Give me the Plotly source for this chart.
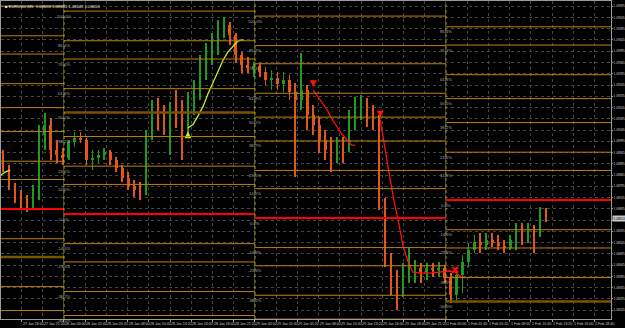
import plotly.graph_objects as go

# ---------------- data (EURUSD, M5 bars aggregated into 45-min candles) ----------------
candle_open = [1.08912, 1.08876, 1.08801, 1.08743, 1.08734, 1.08712, 1.08778, 1.09023, 1.09067, 1.08956,
               1.08934, 1.08921, 1.08992, 1.09009, 1.09000, 1.08912, 1.08921, 1.08934, 1.08947, 1.08912,
               1.08876, 1.08832, 1.08796, 1.08778, 1.08770, 1.09023, 1.09134, 1.09111, 1.09089, 1.09134,
               1.09111, 1.09067, 1.09178, 1.09222, 1.09333, 1.09400, 1.09444, 1.09498, 1.09511, 1.09467,
               1.09378, 1.09333, 1.09320, 1.09329, 1.09302, 1.09267, 1.09276, 1.09249, 1.09267, 1.09214,
               1.09178, 1.09222, 1.09111, 1.09067, 1.09000, 1.08956, 1.08934, 1.08978, 1.08956, 1.09089,
               1.09134, 1.09156, 1.09111, 1.09098, 1.08734, 1.08490, 1.08357, 1.08334, 1.08401, 1.08423,
               1.08432, 1.08414, 1.08432, 1.08423, 1.08432, 1.08388, 1.08312, 1.08401, 1.08459, 1.08512,
               1.08548, 1.08534, 1.08556, 1.08543, 1.08530, 1.08521, 1.08556, 1.08592, 1.08579, 1.08610,
               1.08579, 1.08667]
candle_high = [1.08956, 1.08889, 1.08809, 1.08778, 1.08756, 1.08801, 1.09067, 1.09120, 1.09098, 1.09000,
               1.08965, 1.09000, 1.09036, 1.09036, 1.09009, 1.08956, 1.08956, 1.08965, 1.08956, 1.08925,
               1.08889, 1.08858, 1.08823, 1.08814, 1.09045, 1.09178, 1.09187, 1.09156, 1.09169, 1.09222,
               1.09178, 1.09214, 1.09267, 1.09378, 1.09431, 1.09476, 1.09533, 1.09547, 1.09524, 1.09476,
               1.09391, 1.09369, 1.09347, 1.09342, 1.09325, 1.09311, 1.09302, 1.09302, 1.09289, 1.09254,
               1.09387, 1.09245, 1.09156, 1.09103, 1.09045, 1.09014, 1.09014, 1.09014, 1.09134, 1.09191,
               1.09200, 1.09187, 1.09156, 1.09111, 1.08743, 1.08499, 1.08423, 1.08454, 1.08525, 1.08468,
               1.08454, 1.08454, 1.08454, 1.08459, 1.08445, 1.08410, 1.08423, 1.08490, 1.08543, 1.08579,
               1.08587, 1.08587, 1.08587, 1.08579, 1.08556, 1.08579, 1.08632, 1.08632, 1.08632, 1.08623,
               1.08703, 1.08698]
candle_low = [1.08858, 1.08778, 1.08721, 1.08690, 1.08681, 1.08698, 1.08734, 1.08956, 1.08912, 1.08898,
              1.08889, 1.08912, 1.08969, 1.08987, 1.08889, 1.08867, 1.08898, 1.08912, 1.08889, 1.08858,
              1.08814, 1.08778, 1.08747, 1.08734, 1.08756, 1.09000, 1.09045, 1.09023, 1.08934, 1.09054,
              1.08912, 1.09032, 1.09111, 1.09178, 1.09267, 1.09333, 1.09378, 1.09453, 1.09422, 1.09342,
              1.09298, 1.09298, 1.09280, 1.09280, 1.09245, 1.09222, 1.09222, 1.09214, 1.09178, 1.08836,
              1.09134, 1.09045, 1.09023, 1.08943, 1.08912, 1.08858, 1.08898, 1.08898, 1.08947, 1.09045,
              1.09089, 1.09058, 1.09045, 1.08690, 1.08437, 1.08312, 1.08246, 1.08303, 1.08366, 1.08366,
              1.08366, 1.08379, 1.08392, 1.08392, 1.08366, 1.08277, 1.08277, 1.08321, 1.08437, 1.08499,
              1.08499, 1.08512, 1.08525, 1.08512, 1.08499, 1.08512, 1.08512, 1.08534, 1.08543, 1.08499,
              1.08570, 1.08636]
candle_close = [1.08876, 1.08801, 1.08743, 1.08734, 1.08712, 1.08778, 1.09023, 1.09067, 1.08956, 1.08934,
                1.08921, 1.08992, 1.09009, 1.09000, 1.08912, 1.08921, 1.08934, 1.08947, 1.08912, 1.08876,
                1.08832, 1.08796, 1.08778, 1.08770, 1.09023, 1.09134, 1.09111, 1.09089, 1.09134, 1.09111,
                1.09067, 1.09178, 1.09222, 1.09333, 1.09400, 1.09444, 1.09498, 1.09511, 1.09467, 1.09378,
                1.09333, 1.09320, 1.09329, 1.09302, 1.09267, 1.09276, 1.09249, 1.09267, 1.09214, 1.09178,
                1.09222, 1.09111, 1.09067, 1.09000, 1.08956, 1.08934, 1.08978, 1.08956, 1.09089, 1.09134,
                1.09156, 1.09111, 1.09098, 1.08734, 1.08490, 1.08357, 1.08334, 1.08401, 1.08423, 1.08432,
                1.08414, 1.08432, 1.08423, 1.08432, 1.08388, 1.08312, 1.08401, 1.08459, 1.08512, 1.08548,
                1.08534, 1.08556, 1.08543, 1.08530, 1.08521, 1.08556, 1.08592, 1.08579, 1.08610, 1.08579,
                1.08667, 1.08654]
BARS_PER_CANDLE = 9          # M5 bars per drawn candle
candle_x = [4 + BARS_PER_CANDLE * i for i in range(len(candle_close))]   # bar index (5-min bars from 27 Jan 16:00)
current_bid = 1.08653

# indicator lines (bar index, price)
green1_x = [1, 7, 15]
green1_y = [1.08845, 1.08858, 1.08867]
green2_x = [283, 291, 298, 306, 313, 321, 328, 336, 343, 351, 357, 361, 367]
green2_y = [1.09054, 1.09071, 1.09107, 1.09151, 1.09205, 1.09258, 1.09311, 1.09356, 1.09391, 1.09418,
            1.09436, 1.09444, 1.09444]
red1_x = [472, 482, 493, 500, 508, 515, 523, 530, 535]
red1_y = [1.09222, 1.09178, 1.09134, 1.09094, 1.09058, 1.09027, 1.09000, 1.08978, 1.08978]
red2_x = [573, 580, 588, 595, 600, 607, 615, 622, 633, 648, 663, 678, 686, 693, 701]
red2_y = [1.09089, 1.08956, 1.08823, 1.08712, 1.08645, 1.08534, 1.08459, 1.08414, 1.08410, 1.08410,
          1.08414, 1.08419, 1.08414, 1.08397, 1.08388]
buy_arrow_x, buy_arrow_y = [283], [1.09040]
sell_arrow_x, sell_arrow_y = [472, 573], [1.09235, 1.09100]
cross_x, cross_y = [686], [1.08425]

# fibonacci objects (one per day)
fib_levels = [100, 85.4, 76.4, 61.8, 50, 38.2, 23.6, 14.6, 0, -14.6, -23.6, -38.2, -50]
fib_start = [-60, 96, 384, 672]
fib_end = [96, 384, 672, 925]
fib_zero = [1.08694, 1.08672, 1.08654, 1.08734]
fib_full = [1.09595, 1.09573, 1.09551, 1.09635]
fib_thick = [(0, -23.6), (1, 50), (3, -50)]

day_separators = [96, 384, 672]

time_tick_idx = [32 * k for k in range(29)]
time_tick_text = ["27 Jan 2016", "27 Jan 18:40", "27 Jan 21:20", "28 Jan 00:00", "28 Jan 02:40",
                  "28 Jan 05:20", "28 Jan 08:00", "28 Jan 10:40", "28 Jan 13:20", "28 Jan 16:00",
                  "28 Jan 18:40", "28 Jan 21:20", "29 Jan 00:00", "29 Jan 02:40", "29 Jan 05:20",
                  "29 Jan 08:00", "29 Jan 10:40", "29 Jan 13:20", "29 Jan 16:00", "29 Jan 18:40",
                  "29 Jan 21:20", "1 Feb 00:00", "1 Feb 02:40", "1 Feb 05:20", "1 Feb 08:00",
                  "1 Feb 10:40", "1 Feb 13:20", "1 Feb 16:00", "1 Feb 18:40"]
price_tick0 = 1.09595
price_step = 0.0005
title_text = "■ EURUSD,M5  1.08653 1.08655 1.08649 1.08653"

X_RANGE = [1.06, 920.9]
Y_RANGE = [1.08206, 1.09618]

# ---------------- figure ----------------
FONT = "Liberation Sans"
UP, DOWN = "#1f9a1f", "#e2561a"
fig = go.Figure()

# candles drawn as wick bars + body bars
colors = [UP if c >= o else DOWN for o, c in zip(candle_open, candle_close)]
wick_len = [h - l for h, l in zip(candle_high, candle_low)]
body_base = [min(o, c) for o, c in zip(candle_open, candle_close)]
body_len = [max(abs(c - o), 0.00003) for o, c in zip(candle_open, candle_close)]

fig.add_trace(go.Bar(x=candle_x, y=wick_len, base=candle_low, width=1.3,
                     marker=dict(color=colors, line=dict(width=0)),
                     showlegend=False, hoverinfo="skip"))
fig.add_trace(go.Bar(x=candle_x, y=body_len, base=body_base, width=3.8,
                     marker=dict(color=colors, line=dict(width=0)),
                     showlegend=False, hoverinfo="skip"))

for xs, ys in [(green1_x, green1_y), (green2_x, green2_y)]:
    fig.add_trace(go.Scatter(x=xs, y=ys, mode="lines", line=dict(color="#bff02a", width=1.3),
                             showlegend=False, hoverinfo="skip"))
for xs, ys in [(red1_x, red1_y), (red2_x, red2_y)]:
    fig.add_trace(go.Scatter(x=xs, y=ys, mode="lines", line=dict(color="#ff1010", width=1.3),
                             showlegend=False, hoverinfo="skip"))
fig.add_trace(go.Scatter(x=buy_arrow_x, y=buy_arrow_y, mode="markers",
                         marker=dict(symbol="arrow-up", size=7, color="#bff02a"),
                         showlegend=False, hoverinfo="skip"))
fig.add_trace(go.Scatter(x=sell_arrow_x, y=sell_arrow_y, mode="markers",
                         marker=dict(symbol="arrow-down", size=7, color="#ff1010"),
                         showlegend=False, hoverinfo="skip"))
fig.add_trace(go.Scatter(x=cross_x, y=cross_y, mode="markers",
                         marker=dict(symbol="x-thin", size=6, color="#ff1010",
                                     line=dict(color="#ff1010", width=2)),
                         showlegend=False, hoverinfo="skip"))

shapes = []
annotations = []
for s in range(len(fib_start)):
    for lv in fib_levels:
        price = fib_zero[s] + lv / 100.0 * (fib_full[s] - fib_zero[s])
        if lv == 0:
            color, width = "#ff0000", 2
        elif (s, lv) in fib_thick:
            color, width = "#7a5200", 2.5
        else:
            color, width = "#c08008", 1
        shapes.append(dict(type="line", xref="x", yref="y", x0=fib_start[s], x1=fib_end[s],
                           y0=price, y1=price, line=dict(color=color, width=width), layer="above"))
        if X_RANGE[0] <= fib_start[s] and Y_RANGE[0] < price < Y_RANGE[1]:
            annotations.append(dict(x=fib_start[s], y=price, xref="x", yref="y",
                                    text=f"{lv:.1f}%", showarrow=False, xanchor="center",
                                    yanchor="top", yshift=-0.5,
                                    font=dict(family=FONT, size=4.2, color="#a8a8a8")))

for d in day_separators:
    shapes.append(dict(type="line", xref="x", yref="paper", x0=d, x1=d, y0=0, y1=1,
                       line=dict(color="#b8ac3c", width=1, dash="dot"), layer="above"))

for xi, tx in zip(time_tick_idx, time_tick_text):
    annotations.append(dict(x=xi, y=0, xref="x", yref="paper", text=tx, showarrow=False,
                            xanchor="left", yanchor="top", yshift=-1, xshift=-1,
                            font=dict(family=FONT, size=3.6, color="#c8c8c8")))

annotations.append(dict(x=0, y=1, xref="paper", yref="paper", text=title_text, showarrow=False,
                        xanchor="left", yanchor="top", xshift=2, yshift=-1,
                        font=dict(family=FONT, size=4.2, color="#e8e8e8")))

# current bid price box on the price scale
annotations.append(dict(x=1, y=current_bid, xref="paper", yref="y", text=f"{current_bid:.5f}",
                        showarrow=False, xanchor="left", yanchor="middle", xshift=1,
                        bgcolor="#c8c8c8", borderpad=0.5,
                        font=dict(family=FONT, size=3.1, color="#000000")))

fig.update_layout(
    width=625, height=328,
    margin=dict(l=1, r=14, t=1, b=9),
    paper_bgcolor="#000000", plot_bgcolor="#000000",
    shapes=shapes, annotations=annotations,
    showlegend=False, barmode="overlay", bargap=0,
    xaxis=dict(range=X_RANGE, tickvals=time_tick_idx,
               showticklabels=False, ticks="outside", ticklen=2, tickcolor="#a0a0a0",
               showgrid=True, gridcolor="#444444", griddash="dot", gridwidth=1,
               zeroline=False, showline=True, linecolor="#9a9a9a", linewidth=1, mirror=True,
               automargin=False, fixedrange=True),
    yaxis=dict(range=Y_RANGE, side="right", tick0=price_tick0, dtick=price_step,
               tickformat=".5f", ticks="outside", ticklen=1, tickcolor="#a0a0a0",
               tickfont=dict(family=FONT, size=3.1, color="#d0d0d0"),
               showgrid=True, gridcolor="#444444", griddash="dot", gridwidth=1,
               zeroline=False, showline=True, linecolor="#9a9a9a", linewidth=1, mirror=True,
               automargin=False, fixedrange=True),
)

fig.write_html("out.html")
